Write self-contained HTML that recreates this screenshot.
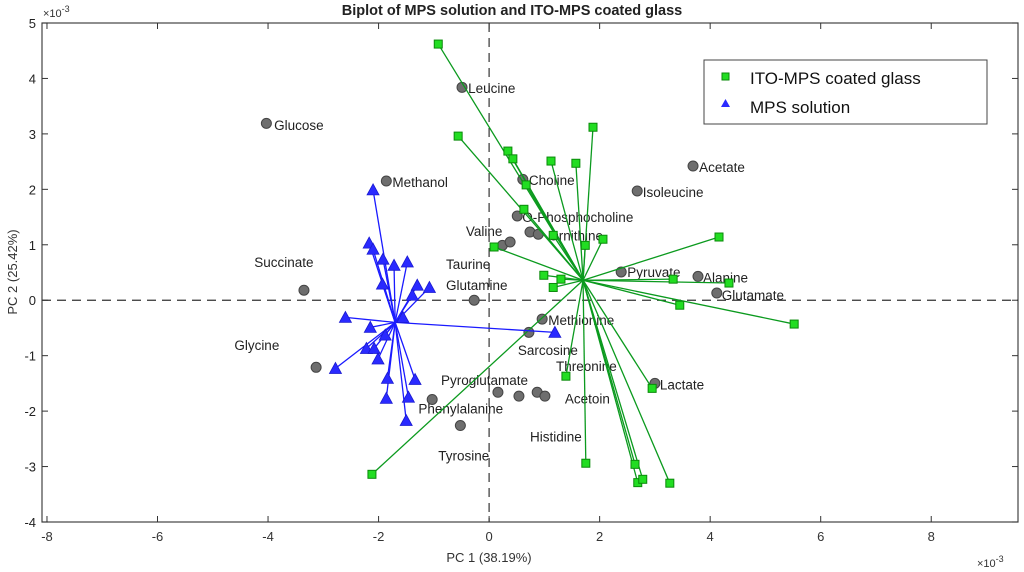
<!DOCTYPE html>
<html><head><meta charset="utf-8"><style>
body{margin:0;background:#fff;}
svg{display:block;font-family:"Liberation Sans",Arial,sans-serif;}
</style></head><body>
<svg id="chart" width="1024" height="572" viewBox="0 0 1024 572" xmlns="http://www.w3.org/2000/svg">
<text x="512" y="15" text-anchor="middle" font-size="14.5" font-weight="bold" fill="#222">Biplot of MPS solution and ITO-MPS coated glass</text>
<text x="489" y="562" text-anchor="middle" font-size="13" fill="#333">PC 1 (38.19%)</text>
<text transform="translate(17,272) rotate(-90)" text-anchor="middle" font-size="13" fill="#333">PC 2 (25.42%)</text>
<text x="977" y="567" font-size="11" fill="#333">×10<tspan dy="-5" font-size="9">-3</tspan></text>
<text x="43" y="17" font-size="11" fill="#333">×10<tspan dy="-5" font-size="9">-3</tspan></text>
<g id="plot"></g>
<g>
<rect x="704" y="60" width="283" height="64" fill="#fff" stroke="#444" stroke-width="1"/>
<rect x="722" y="73" width="7" height="7" fill="#22dd22" stroke="#0a8a0a"/>
<text x="750" y="84" font-size="17" fill="#111">ITO-MPS coated glass</text>
<polygon points="725.5,99 721,107 730,107" fill="#2a2aff"/>
<text x="750" y="113" font-size="17" fill="#111">MPS solution</text>
</g>
</svg>
<script>
const xTicks=[-8,-6,-4,-2,0,2,4,6,8];
const yTicks=[-4,-3,-2,-1,0,1,2,3,4,5];
const xDomain=[-8.09,9.57], yDomain=[-4,5];
const mpsOrigin=[-1.70,-0.40];
const mpsX=[-2.10,-2.17,-2.10,-1.92,-1.72,-1.48,-1.93,-1.30,-1.08,-1.39,-1.56,-2.60,-2.15,-1.88,-2.22,-2.08,-2.01,-2.78,-1.84,-1.34,-1.86,-1.46,-1.50,1.19];
const mpsY=[1.99,1.03,0.92,0.74,0.63,0.69,0.29,0.27,0.23,0.09,-0.31,-0.31,-0.49,-0.63,-0.87,-0.87,-1.06,-1.23,-1.41,-1.43,-1.77,-1.75,-2.17,-0.58];
const itoOrigin=[1.70,0.36];
const itoX=[-0.92,-0.56,0.34,0.43,1.12,1.57,1.88,0.67,0.63,0.09,1.16,1.74,2.06,4.16,0.99,1.30,1.16,3.33,4.34,3.45,5.52,1.39,2.95,1.75,2.64,2.69,2.78,3.27,-2.12];
const itoY=[4.62,2.96,2.69,2.55,2.51,2.47,3.12,2.08,1.64,0.96,1.17,0.99,1.10,1.14,0.45,0.38,0.23,0.38,0.31,-0.09,-0.43,-1.37,-1.59,-2.94,-2.96,-3.29,-3.23,-3.30,-3.14];
const scoreX=[-4.03,-1.86,-0.49,-3.35,-3.13,0.61,0.51,0.74,0.89,0.24,0.38,-0.27,2.68,3.69,2.39,3.78,4.12,0.96,0.72,3.00,0.16,0.54,0.87,1.01,-1.03,-0.52];
const scoreY=[3.19,2.15,3.84,0.18,-1.21,2.18,1.52,1.23,1.19,0.99,1.05,0,1.97,2.42,0.51,0.43,0.13,-0.34,-0.58,-1.50,-1.66,-1.73,-1.66,-1.73,-1.79,-2.26];
const labelText=["Glucose","Methanol","Leucine","Succinate","Glycine","Choline","O-Phosphocholine","Ornithine","Valine","Taurine","Glutamine","Isoleucine","Acetate","Pyruvate","Alanine","Glutamate","Methionine","Sarcosine","Threonine","Lactate","Pyroglutamate","Phenylalanine","Acetoin","Histidine","Tyrosine"];
const labelX=[-3.89,-1.75,-0.38,-4.25,-4.61,0.72,0.60,1.07,-0.42,-0.78,-0.78,2.78,3.80,2.50,3.87,4.21,1.07,0.52,1.21,3.09,-0.87,-1.28,1.37,0.74,-0.92];
const labelY=[3.07,2.04,3.74,0.60,-0.90,2.08,1.41,1.08,1.16,0.56,0.18,1.86,2.31,0.42,0.32,0.00,-0.45,-0.99,-1.28,-1.61,-1.53,-2.04,-1.86,-2.55,-2.89];

const L=42,R=1018,T=23,B=522;
const sx=v=>L+(v-xDomain[0])/(xDomain[1]-xDomain[0])*(R-L);
const sy=v=>B-(v-yDomain[0])/(yDomain[1]-yDomain[0])*(B-T);
const NS="http://www.w3.org/2000/svg";
const g=document.getElementById('plot');
function mk(tag,attrs,parent){const e=document.createElementNS(NS,tag);for(const k in attrs)e.setAttribute(k,attrs[k]);(parent||g).appendChild(e);return e;}

// frame
let e=mk('rect',{x:L,y:T,width:R-L,height:B-T,fill:'none',stroke:'#444','stroke-width':1.2});


xTicks.forEach(t=>{
  const x=sx(t);
  let a=mk('line',{x1:x,y1:B,x2:x,y2:B-6,stroke:'#333'});
  
  
  let b=mk('line',{x1:x,y1:T,x2:x,y2:T+6,stroke:'#333'});
  
  
  let tx=mk('text',{x:x,y:B+19,'text-anchor':'middle','font-size':13,fill:'#333'});
  tx.textContent=t;
  
  
});
yTicks.forEach(t=>{
  const y=sy(t);
  let a=mk('line',{x1:L,y1:y,x2:L+6,y2:y,stroke:'#333'});
  
  
  let b=mk('line',{x1:R,y1:y,x2:R-6,y2:y,stroke:'#333'});
  
  
  let tx=mk('text',{x:L-6,y:y+5,'text-anchor':'end','font-size':13,fill:'#222'});
  tx.textContent=t;
  
  
});
// zero lines
e=mk('line',{x1:sx(0),y1:T,x2:sx(0),y2:B,stroke:'#333','stroke-width':1.2,'stroke-dasharray':'9,6'});


e=mk('line',{x1:L,y1:sy(0),x2:R,y2:sy(0),stroke:'#333','stroke-width':1.2,'stroke-dasharray':'9,6'});



// score circles
scoreX.forEach((v,i)=>{
  let c=mk('circle',{cx:sx(v),cy:sy(scoreY[i]),r:5,fill:'#6e6e6e',stroke:'#444','stroke-width':1});
  
  
});
// labels
labelText.forEach((t,i)=>{
  let tx=mk('text',{x:sx(labelX[i]),y:sy(labelY[i]),'font-size':13.5,fill:'#222'});
  tx.textContent=t;
  
  
});
// ITO vectors
itoX.forEach((v,i)=>{
  let l=mk('line',{x1:sx(itoOrigin[0]),y1:sy(itoOrigin[1]),x2:sx(v),y2:sy(itoY[i]),stroke:'#0b9a1e','stroke-width':1.3});
  
  
});
itoX.forEach((v,i)=>{
  let s=mk('rect',{x:sx(v)-4,y:sy(itoY[i])-4,width:8,height:8,fill:'#22dd22',stroke:'#0a8a0a','stroke-width':1});
  
  
});
// MPS vectors
mpsX.forEach((v,i)=>{
  let l=mk('line',{x1:sx(mpsOrigin[0]),y1:sy(mpsOrigin[1]),x2:sx(v),y2:sy(mpsY[i]),stroke:'#1a1aff','stroke-width':1.3});
  
  
});
mpsX.forEach((v,i)=>{
  const x=sx(v),y=sy(mpsY[i]);
  let p=mk('polygon',{points:`${x},${y-6} ${x-6},${y+5} ${x+6},${y+5}`,fill:'#2a2aff',stroke:'#1a1ad0','stroke-width':0.8});
  
  
});
</script>
</body></html>
